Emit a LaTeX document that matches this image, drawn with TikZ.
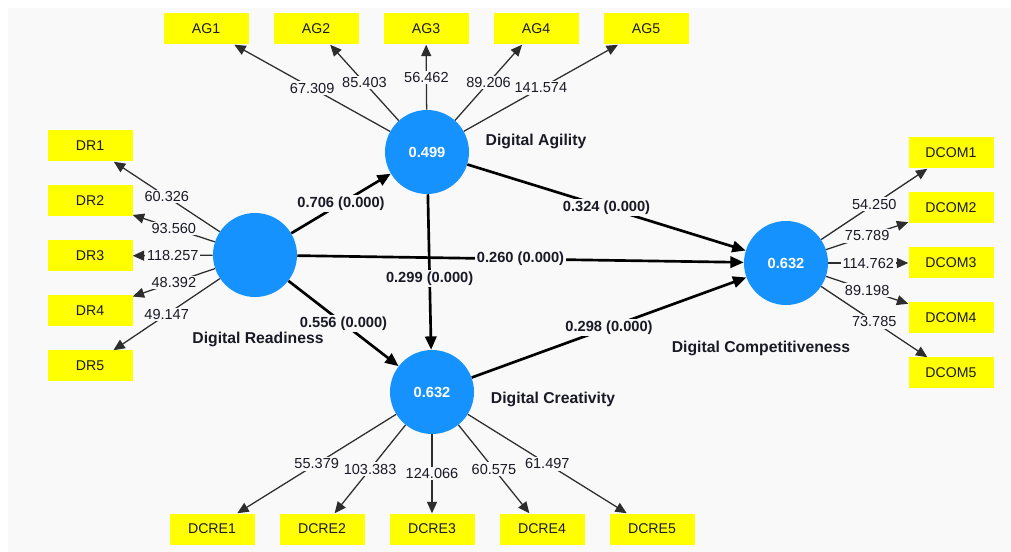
\documentclass[tikz,border=0pt]{standalone}
\usepackage{fontspec}
\setmainfont{Liberation Sans}
\usetikzlibrary{arrows.meta,calc}
\definecolor{panel}{RGB}{249,249,249}
\definecolor{latent}{RGB}{22,146,255}
\definecolor{ind}{RGB}{255,255,0}
\definecolor{ink}{RGB}{26,26,38}
\definecolor{thinline}{RGB}{45,45,45}

\begin{document}
\begin{tikzpicture}[x=0.75pt,y=-0.75pt,
  latentnode/.style={circle, fill=latent, minimum size=63pt, inner sep=0pt,
    text=white, font=\fontsize{11}{13}\selectfont\bfseries},
  indbox/.style={rectangle, fill=ind, minimum width=63.75pt, minimum height=23.25pt,
    inner sep=0pt, text=ink, font=\fontsize{10.6}{12}\selectfont},
  loadarrow/.style={draw=thinline, line width=0.95pt,
    -{Triangle[length=8.5pt,width=7.5pt]}},
  structpath/.style={draw=black, line width=2pt,
    -{Triangle[length=10pt,width=8.5pt]}},
  lbl/.style={fill=panel, inner sep=1.2pt, text=ink, font=\fontsize{10.9}{12}\selectfont},
  plbl/.style={fill=panel, inner sep=1.2pt, text=ink, font=\fontsize{11}{12}\selectfont\bfseries},
  lvname/.style={text=ink, font=\fontsize{11.8}{13}\selectfont\bfseries, inner sep=0pt}
]
% canvas
\useasboundingbox (0,0) rectangle (1011,552);
\fill[white] (0,0) rectangle (1011,552);
\fill[panel] (8,8) rectangle (1011,552);

% latent variables
\node[latentnode] (dr)   at (255,255) {};
\node[latentnode] (da)   at (427,152) {0.499};
\node[latentnode] (dcre) at (432,392) {0.632};
\node[latentnode] (dcom) at (786,263) {0.632};

\node[lvname] (drname)   at (258,339) {Digital Readiness};
\node[lvname] (daname)   at (536,141) {Digital Agility};
\node[lvname] (dcrename) at (553,399) {Digital Creativity};
\node[lvname] (dcomname) at (761,348) {Digital Competitiveness};

% indicators: Digital Agility
\node[indbox] (ag1) at (206,29) {AG1};
\node[indbox] (ag2) at (316,29) {AG2};
\node[indbox] (ag3) at (426,29) {AG3};
\node[indbox] (ag4) at (536,29) {AG4};
\node[indbox] (ag5) at (646,29) {AG5};

% indicators: Digital Readiness
\node[indbox] (dr1) at (90,146) {DR1};
\node[indbox] (dr2) at (90,201) {DR2};
\node[indbox] (dr3) at (90,256) {DR3};
\node[indbox] (dr4) at (90,311) {DR4};
\node[indbox] (dr5) at (90,366) {DR5};

% indicators: Digital Competitiveness
\node[indbox] (dcom1) at (951,153) {DCOM1};
\node[indbox] (dcom2) at (951,208) {DCOM2};
\node[indbox] (dcom3) at (951,263) {DCOM3};
\node[indbox] (dcom4) at (951,318) {DCOM4};
\node[indbox] (dcom5) at (951,373) {DCOM5};

% indicators: Digital Creativity
\node[indbox] (dcre1) at (212,529) {DCRE1};
\node[indbox] (dcre2) at (322,529) {DCRE2};
\node[indbox] (dcre3) at (432,529) {DCRE3};
\node[indbox] (dcre4) at (542,529) {DCRE4};
\node[indbox] (dcre5) at (652,529) {DCRE5};

% outer loadings
\draw[loadarrow] (da) -- node[lbl] {67.309} (ag1);
\draw[loadarrow] (da) -- node[lbl] {85.403} (ag2);
\draw[loadarrow] (da) -- node[lbl] {56.462} (ag3);
\draw[loadarrow] (da) -- node[lbl] {89.206} (ag4);
\draw[loadarrow] (da) -- node[lbl] {141.574} (ag5);

\draw[loadarrow] (dr) -- node[lbl] {60.326} (dr1);
\draw[loadarrow] (dr) -- node[lbl] {93.560} (dr2);
\draw[loadarrow] (dr) -- node[lbl] {118.257} (dr3);
\draw[loadarrow] (dr) -- node[lbl] {48.392} (dr4);
\draw[loadarrow] (dr) -- node[lbl] {49.147} (dr5);

\draw[loadarrow] (dcom) -- node[lbl] {54.250} (dcom1);
\draw[loadarrow] (dcom) -- node[lbl] {75.789} (dcom2);
\draw[loadarrow] (dcom) -- node[lbl] {114.762} (dcom3);
\draw[loadarrow] (dcom) -- node[lbl] {89.198} (dcom4);
\draw[loadarrow] (dcom) -- node[lbl] {73.785} (dcom5);

\draw[loadarrow] (dcre) -- node[lbl] {55.379} (dcre1);
\draw[loadarrow] (dcre) -- node[lbl] {103.383} (dcre2);
\draw[loadarrow] (dcre) -- node[lbl] {124.066} (dcre3);
\draw[loadarrow] (dcre) -- node[lbl] {60.575} (dcre4);
\draw[loadarrow] (dcre) -- node[lbl] {61.497} (dcre5);

% structural paths
\draw[structpath] (dr) -- node[plbl] {0.260 (0.000)} (dcom);
\draw[structpath] (dr) -- node[plbl] {0.706 (0.000)} (da);
\draw[structpath] (dr) -- node[plbl] {0.556 (0.000)} (dcre);
\draw[structpath] (da) -- node[plbl] {0.324 (0.000)} (dcom);
\draw[structpath] (da) -- node[plbl, pos=0.54] {0.299 (0.000)} (dcre);
\draw[structpath] (dcre) -- node[plbl] {0.298 (0.000)} (dcom);
\end{tikzpicture}
\end{document}
